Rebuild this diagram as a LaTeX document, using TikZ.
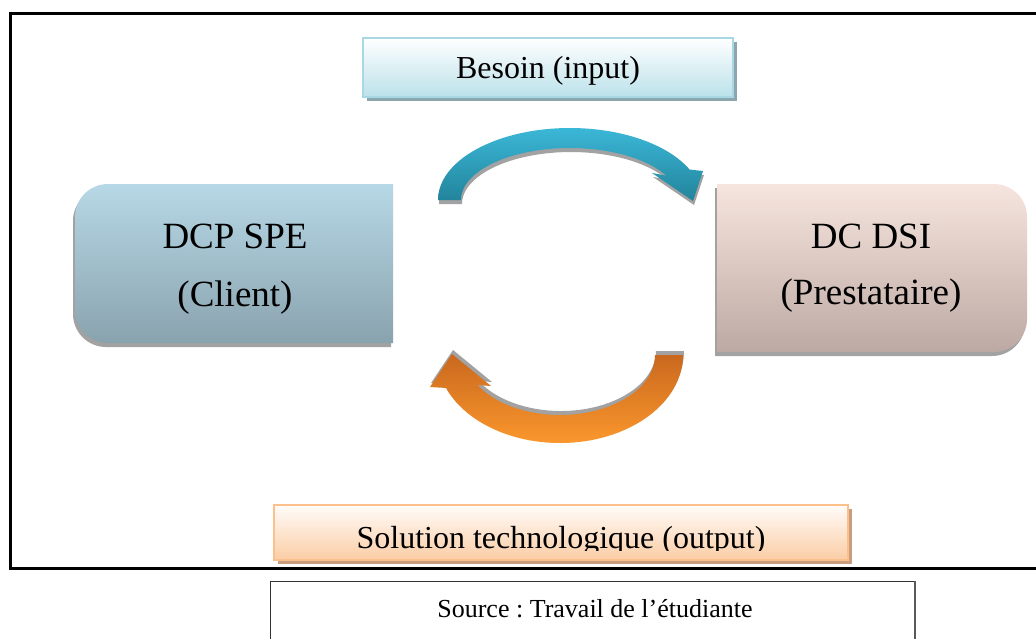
\documentclass[tikz,border=0pt]{standalone}
\usepackage{fontspec}
\setmainfont{Liberation Serif}
\frenchspacing
\definecolor{besointop}{HTML}{FFFFFF}
\definecolor{besoinbot}{HTML}{BBE1EA}
\definecolor{besoinline}{HTML}{A8D8E4}
\definecolor{besoinshadow}{HTML}{8CA6B0}
\definecolor{soltop}{HTML}{FFFCF9}
\definecolor{solbot}{HTML}{FBCDA5}
\definecolor{solline}{HTML}{FCC08C}
\definecolor{solshadow}{HTML}{C99E7F}
\definecolor{clienttop}{HTML}{B7D8E6}
\definecolor{clientbot}{HTML}{89A3AE}
\definecolor{presttop}{HTML}{F6E5DE}
\definecolor{prestbot}{HTML}{BDA9A3}
\definecolor{bluetop}{HTML}{3BB7D7}
\definecolor{bluebot}{HTML}{22849B}
\definecolor{orangetop}{HTML}{C9681E}
\definecolor{orangebot}{HTML}{FA972D}
\definecolor{shadowgrey}{HTML}{A2A2A2}

% shapes in pixel units, y pointing down
\def\clientpath{(393,184) -- (108,184) arc[start angle=270,end angle=180,radius=33]
  -- (75,310) arc[start angle=180,end angle=90,radius=33] -- (393,343) -- cycle}
\def\prestpath{(717,184) -- (994,184) arc[start angle=270,end angle=360,radius=33]
  -- (1027,319) arc[start angle=0,end angle=90,radius=33] -- (717,352) -- cycle}
\def\toparrow{(438,200) arc[start angle=180,end angle=335,x radius=132,y radius=72]
  -- (703,171) -- (693,201) -- (652,173) -- (666.2,175.6)
  arc[start angle=332,end angle=180,x radius=109,y radius=52] -- cycle}
\def\botarrow{(683,355) arc[start angle=0,end angle=158,x radius=123,y radius=88]
  -- (430,387) -- (452,354) -- (491,386) -- (477.7,385)
  arc[start angle=150,end angle=0,x radius=95,y radius=60] -- cycle}

\begin{document}
\begin{tikzpicture}[x=1pt,y=-1pt,
  boxtext/.style={font=\fontsize{37}{44}\selectfont, anchor=base, inner sep=0pt},
  labeltext/.style={font=\fontsize{32}{38}\selectfont, anchor=base, inner sep=0pt},
  sourcetext/.style={font=\fontsize{26}{31}\selectfont, anchor=base, inner sep=0pt}]
\useasboundingbox (0,0) rectangle (1036,638);
\fill[white] (0,0) rectangle (1036,638);
\clip (0,0) rectangle (1036,638);

% outer frame, open on the right
\draw[line width=3pt] (1045,13) -- (10,13) -- (10,568) -- (1045,568);

% source box
\draw[line width=1pt, black!80] (915,650) -- (270,650) -- (270,581) -- (915,581);
\draw[line width=2.5pt, black!65] (915,581) -- (915,650);
\node[sourcetext] (src) at (595,617) {Source : Travail de l’étudiante};

% input label
\fill[besoinshadow] (367,42) rectangle (737,101);
\shade[top color=besointop, bottom color=besoinbot, draw=besoinline, line width=2pt]
  (363,38) rectangle (733,97);
\node[labeltext] (in) at (548,78) {Besoin (input)};

% output label, its text cut by the frame of the text area
\fill[solshadow] (278,509) rectangle (852,564);
\shade[top color=soltop, bottom color=solbot, draw=solline, line width=2pt]
  (274,505) rectangle (848,560);
\begin{scope}
  \clip (270,500) rectangle (860,550);
  \node[labeltext] (out) at (561,548) {Solution technologique (output)};
\end{scope}

% client box
\begin{scope}[shift={(-2,4)}]
  \fill[shadowgrey] \clientpath;
\end{scope}
\shade[top color=clienttop, bottom color=clientbot] \clientpath;
\node[boxtext] (c1) at (235,248) {DCP SPE};
\node[boxtext] (c2) at (235,306) {(Client)};

% provider box
\begin{scope}[shift={(-2,4)}]
  \fill[shadowgrey] \prestpath;
\end{scope}
\shade[top color=presttop, bottom color=prestbot] \prestpath;
\node[boxtext] (p1) at (871,248) {DC DSI};
\node[boxtext] (p2) at (871,304) {(Prestataire)};

% curved arrows
\begin{scope}[shift={(1,4)}]
  \fill[shadowgrey] \toparrow;
\end{scope}
\shade[top color=bluetop, bottom color=bluebot] \toparrow;
\begin{scope}[shift={(1,-4)}]
  \fill[shadowgrey] \botarrow;
\end{scope}
\shade[top color=orangetop, bottom color=orangebot] \botarrow;
\end{tikzpicture}
\end{document}
